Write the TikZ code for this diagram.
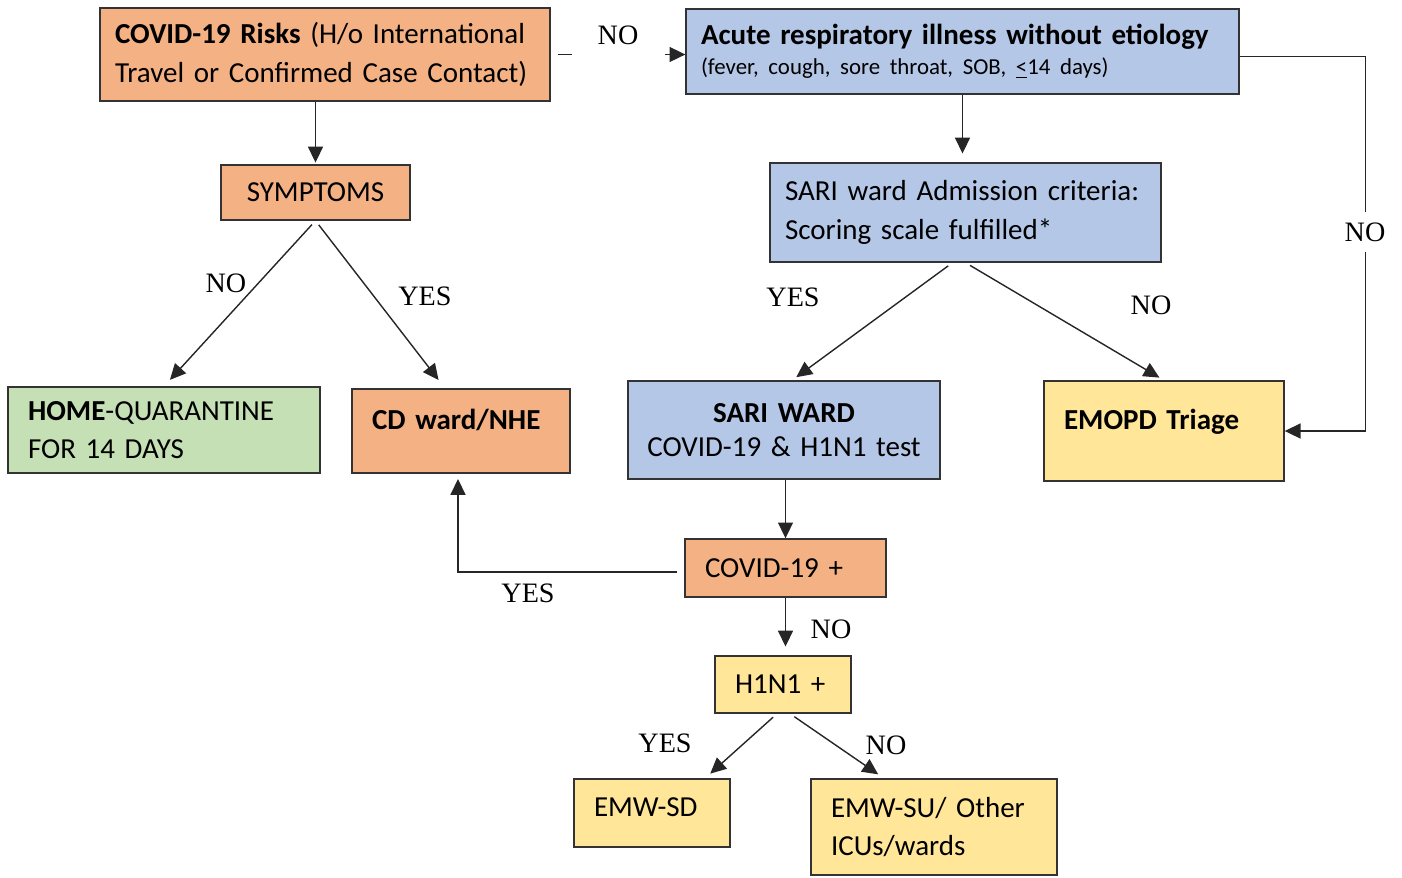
\documentclass[tikz,border=0pt]{standalone}
\usepackage{fontspec}
\setmainfont{Carlito}
\newfontfamily\lblfont{Liberation Serif}
\usetikzlibrary{arrows.meta}
\frenchspacing
\definecolor{boxorange}{HTML}{F4B183}
\definecolor{boxblue}{HTML}{B4C7E7}
\definecolor{boxgreen}{HTML}{C5E0B4}
\definecolor{boxyellow}{HTML}{FFE699}
\tikzset{
  box/.style={draw=black!80, line width=0.8pt, rectangle, inner xsep=0.4cm, inner ysep=0pt,
    align=left, font=\fontsize{16.5}{22}\selectfont},
  toptext/.style={text height=12pt, text depth=14pt},
  lbl/.style={font=\lblfont\fontsize{16}{18}\selectfont, inner sep=2pt},
  arr/.style={draw=black!85, line width=0.8pt, -{Triangle[length=9pt,width=8.5pt]}}
}
\begin{document}
\begin{tikzpicture}[x=0.02cm,y=-0.02cm]
\useasboundingbox (0,0) rectangle (1402,877);
\node[box, fill=boxorange, inner xsep=0.3cm, text width=8.4cm, minimum height=1.86cm] (risks) at (325,54.5)
  {\textbf{COVID-19 Risks} (H/o International\\Travel or Confirmed Case Contact)};
\node[box, fill=boxblue, inner xsep=0.3cm, text width=10.46cm, minimum height=1.7cm] (acute) at (962.5,51.5)
  {\textbf{Acute respiratory illness without etiology}\\[-5pt]
   {\fontsize{13}{16}\selectfont (fever, cough, sore throat, SOB, \underline{<}14 days)}};
\node[box, fill=boxorange, text width=2.98cm, minimum height=1.1cm, align=center] (symptoms) at (315.5,192.5) {SYMPTOMS};
\node[box, fill=boxblue, inner xsep=0.3cm, text width=7.22cm, minimum height=1.98cm] (criteria) at (965.5,212.5)
  {SARI ward Admission criteria:\\Scoring scale fulfilled*};
\node[box, fill=boxgreen, text width=5.44cm, minimum height=1.72cm] (home) at (164,430)
  {\textbf{HOME}-QUARANTINE\\FOR 14 DAYS};
\node[box, fill=boxorange, toptext, text width=3.56cm, minimum height=1.68cm] (cdward) at (461,431)
  {\textbf{CD ward/NHE}};
\node[box, fill=boxblue, inner xsep=0.2cm, text width=5.84cm, minimum height=1.96cm, align=center] (sariward) at (784,430)
  {\textbf{SARI WARD}\\[-3pt]COVID-19 \& H1N1 test};
\node[box, fill=boxyellow, toptext, text width=4cm, minimum height=2cm] (emopd) at (1164,431)
  {\textbf{EMOPD Triage}};
\node[box, fill=boxorange, text width=3.22cm, minimum height=1.16cm] (covidpos) at (785.5,568) {COVID-19 +};
\node[box, fill=boxyellow, text width=1.92cm, minimum height=1.14cm] (hpos) at (783,684.5) {H1N1 +};
\node[box, fill=boxyellow, text height=12pt, text depth=8pt, text width=2.32cm, minimum height=1.36cm] (emwsd) at (652,813) {EMW-SD};
\node[box, fill=boxyellow, text width=4.12cm, minimum height=1.92cm] (emwsu) at (934,827)
  {EMW-SU/ Other\\ICUs/wards};

\draw[arr, shorten <=4pt] (risks.east) -- (risks.east -| acute.west);
\node[lbl, fill=white, minimum width=1.86cm, text depth=0.55cm, anchor=base] (noa) at (618,44) {NO};
\draw[arr, shorten >=1pt] (symptoms.north |- risks.south) -- (symptoms.north);
\draw[arr, shorten >=5pt] (acute.south) -- (acute.south |- criteria.north);
\draw[arr, shorten <=3pt, shorten >=5pt] (symptoms.south) -- (home.north);
\draw[arr, shorten <=3pt, shorten >=6pt] (symptoms.south) -- ([xshift=-0.32cm]cdward.north);
\node[lbl] (nob) at (226,283) {NO};
\node[lbl] (yesb) at (425,296) {YES};
\draw[arr, shorten <=3pt, shorten >=3pt] ([xshift=-0.26cm]criteria.south) -- ([xshift=0.16cm]sariward.north);
\draw[arr, shorten <=3pt, shorten >=3pt] (criteria.south) -- (emopd.north);
\node[lbl] (yesc) at (793,297) {YES};
\node[lbl] (noc) at (1151,305) {NO};
\draw[arr] ([yshift=-0.1cm]acute.east) -- ++(126,0) |- (emopd.east);
\node[lbl, fill=white, inner ysep=6pt] (nod) at (1365,232) {NO};
\draw[arr] (sariward.south -| covidpos.north) -- (covidpos.north);
\draw[arr, shorten <=4pt, shorten >=3pt] ([yshift=-0.08cm]covidpos.west) -| ([xshift=-0.06cm]cdward.south);
\node[lbl] (yese) at (528,593) {YES};
\draw[arr, shorten >=5pt] (covidpos.south) -- (covidpos.south |- hpos.north);
\node[lbl] (noe) at (831,629) {NO};
\draw[arr, shorten <=3pt, shorten >=4pt] ([xshift=-0.12cm]hpos.south) -- ([xshift=1.06cm]emwsd.north);
\draw[arr, shorten <=3pt, shorten >=4pt] ([xshift=0.14cm]hpos.south) -- ([xshift=-1cm]emwsu.north);
\node[lbl] (yesf) at (665,743) {YES};
\node[lbl] (nof) at (886,745) {NO};
\end{tikzpicture}
\end{document}
